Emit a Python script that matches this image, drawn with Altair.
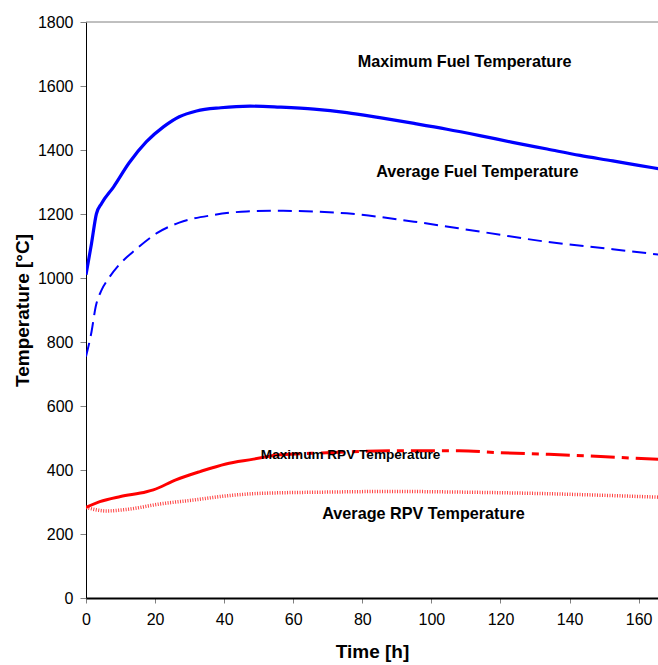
import altair as alt
import pandas as pd

# ---- data ----
max_fuel_t = [0, 1.6, 3, 4.5, 8, 12.5, 17.5, 22.5, 27, 32, 39, 47.5, 56, 66, 75.5, 85, 95, 104.5, 114, 123.5, 133.5, 143, 152.5, 160, 166]
max_fuel_T = [1010, 1108, 1200, 1233, 1285, 1360, 1426, 1473, 1504, 1522, 1532, 1537, 1534, 1528, 1517, 1501, 1483, 1465, 1445, 1424, 1403, 1383, 1366, 1352, 1341]

avg_fuel_t = [0, 1.6, 2.8, 4.5, 6.5, 9.5, 14.5, 20.5, 27, 37, 46.5, 56, 66, 75.5, 95, 114, 133.5, 152.5, 166]
avg_fuel_T = [755, 832, 910, 962, 998, 1040, 1090, 1140, 1173, 1197, 1208, 1210, 1208, 1202, 1176, 1145, 1113, 1090, 1073]

max_rpv_t = [0, 4, 10, 17.5, 19.5, 26, 33, 40.5, 48.5, 55, 65, 79, 91, 108, 120, 134, 149, 166]
max_rpv_T = [283, 301, 317, 332, 338, 369, 395, 419, 434, 447, 452, 458, 460, 460, 454, 449, 442, 433]

avg_rpv_t = [0, 6, 12, 21.5, 31, 40.5, 50.5, 70, 89, 108, 129.5, 166]
avg_rpv_T = [283, 272, 277, 294, 306, 319, 327, 331, 333, 331, 327, 315]

label_text = ["Maximum Fuel Temperature", "Average Fuel Temperature", "Maximum RPV Temperature", "Average RPV Temperature"]
label_t = [109.6, 113.3, 76.6, 97.7]
label_T = [1675, 1331, 447, 262]
label_size = [16.2, 16.2, 13.6, 16.2]

x_ticks = [0, 20, 40, 60, 80, 100, 120, 140, 160]
y_ticks = [0, 200, 400, 600, 800, 1000, 1200, 1400, 1600, 1800]
RPV_SPLIT = 57  # solid before, dash-dot after

# ---- tables ----
rows = []
for name, ts, vs in [("maxfuel", max_fuel_t, max_fuel_T), ("avgfuel", avg_fuel_t, avg_fuel_T),
                     ("maxrpv", max_rpv_t, max_rpv_T), ("avgrpv", avg_rpv_t, avg_rpv_T)]:
    for t, v in zip(ts, vs):
        rows.append({"series": name, "t": t, "T": v})
df = pd.DataFrame(rows)
labels = pd.DataFrame({"label": label_text, "t": label_t, "T": label_T, "size": label_size})

FONT = "Liberation Sans"
x_scale = alt.Scale(domain=[0, 165.6], nice=False, zero=False)
y_scale = alt.Scale(domain=[0, 1800], nice=False)

x_axis = alt.Axis(values=x_ticks, title="Time [h]", grid=False, domainColor="black", domainWidth=2,
                  tickColor="#808080", tickSize=5, labelFont=FONT, labelFontSize=16, labelColor="black",
                  labelPadding=8, labelFlush=False, format="d", titleFont=FONT, titleFontSize=19,
                  titleFontWeight="bold", titleColor="black", titleY=44, titleBaseline="top")
y_axis = alt.Axis(values=y_ticks, title="Temperature [°C]", grid=False, domainColor="black", domainWidth=1,
                  tickColor="#808080", tickSize=6, labelFont=FONT, labelFontSize=16, labelColor="black",
                  labelPadding=7, labelFlush=False, format="d", titleFont=FONT, titleFontSize=19,
                  titleFontWeight="bold", titleColor="black", titleX=-54, titleY=288, titleAngle=270,
                  titleBaseline="bottom", titleAlign="center")

X = alt.X("t:Q", scale=x_scale, axis=x_axis)
Y = alt.Y("T:Q", scale=y_scale, axis=y_axis)

base = alt.Chart(df)

top_rule = alt.Chart(pd.DataFrame({"T": [1800]})).mark_rule(color="#808080", strokeWidth=1).encode(y=Y)

avg_rpv = base.transform_filter(alt.datum.series == "avgrpv").mark_line(
    color="#ff4040", strokeWidth=3.5, strokeDash=[1, 1.5], interpolate="monotone", clip=True).encode(x=X, y=Y)
max_rpv_solid = base.transform_filter((alt.datum.series == "maxrpv") & (alt.datum.t <= RPV_SPLIT)).mark_line(
    color="#ff0000", strokeWidth=3, interpolate="monotone", clip=True).encode(x=X, y=Y)
max_rpv_dash = base.transform_filter((alt.datum.series == "maxrpv") & (alt.datum.t >= RPV_SPLIT - 2)).mark_line(
    color="#ff0000", strokeWidth=3, strokeDash=[24, 7, 7, 7], interpolate="monotone", clip=True).encode(x=X, y=Y)
avg_fuel = base.transform_filter(alt.datum.series == "avgfuel").mark_line(
    color="#0000ff", strokeWidth=2, strokeDash=[14, 7], interpolate="monotone", clip=True).encode(x=X, y=Y)
max_fuel = base.transform_filter(alt.datum.series == "maxfuel").mark_line(
    color="#0000ff", strokeWidth=3.2, interpolate="monotone", clip=True).encode(x=X, y=Y)

texts = alt.Chart(labels).mark_text(font=FONT, fontWeight="bold", color="black", align="center",
                                    baseline="middle").encode(
    x=X, y=Y, text="label:N", size=alt.Size("size:Q", scale=None, legend=None))

chart = alt.layer(top_rule, avg_rpv, max_rpv_solid, max_rpv_dash, avg_fuel, max_fuel, texts).properties(
    width=572, height=576,
    padding={"left": 86, "top": 22, "right": 0, "bottom": 67},
    autosize=alt.AutoSizeParams(type="none"),
).configure_view(stroke=None)

chart.save("out.html", embed_options={"renderer": "svg", "actions": False})
